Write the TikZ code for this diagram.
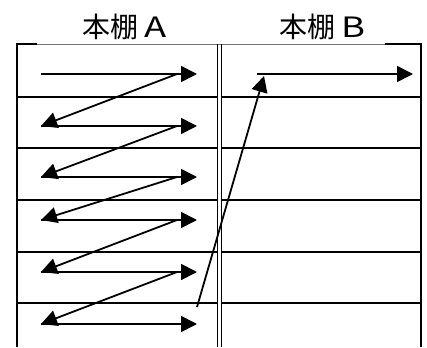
\documentclass[tikz,border=0pt]{standalone}
\usepackage{fontspec}
\newfontfamily\jpfont{Noto Sans CJK JP}
\usetikzlibrary{arrows.meta}
\begin{document}
\begin{tikzpicture}[x=1pt,y=-1pt,
  frameline/.style={line width=1.8pt, black},
  topline/.style={line width=0.8pt, black!55},
  flow/.style={line width=1.8pt, -{Triangle[length=16pt,width=16pt]}},
  titletext/.style={font=\jpfont\fontsize{28}{28}\selectfont, inner sep=0pt}]
\useasboundingbox (0,0) rectangle (427,347);
% titles
\node[titletext] (titleA) at (124.5,27) {本棚 \scalebox{1.3}[1]{A}};
\node[titletext] (titleB) at (322.5,27) {本棚 \scalebox{1.3}[1]{B}};
% frame
\draw[topline] (17,44) -- (421,44);
\draw[frameline] (17,347) -- (17,44) -- (37,44);
\draw[frameline] (385,44) -- (421,44) -- (421,347);
\draw[frameline] (217.5,44) -- (217.5,347);
\draw[frameline] (221.5,44) -- (221.5,347);
\foreach \yy in {97,148,200,252,303} {
  \draw[frameline] (17,\yy) -- (217.5,\yy);
  \draw[frameline] (221.5,\yy) -- (421,\yy);
}
% arrow end points
\foreach \i/\yy in {1/74,2/126,3/177,4/220,5/272,6/324} {
  \coordinate (L\i) at (41,\yy);
  \coordinate (R\i) at (197,\yy);
  \coordinate (M\i) at (177,\yy);
}
\coordinate (upstart) at (197,307);
\coordinate (Bstart) at (257,74);
\coordinate (Btip) at (264,76);
\coordinate (Bend) at (413,74);
% horizontal arrows
\foreach \i in {1,...,6} { \draw[flow] (L\i) -- (R\i); }
% diagonals
\draw[flow] (M1) -- (L2);
\draw[flow] (M2) -- (L3);
\draw[flow] (M3) -- (L4);
\draw[flow] (M4) -- (L5);
\draw[flow] (M5) -- (L6);
% jump to shelf B
\draw[flow] (upstart) -- (Btip);
\draw[flow] (Bstart) -- (Bend);
\end{tikzpicture}
\end{document}
